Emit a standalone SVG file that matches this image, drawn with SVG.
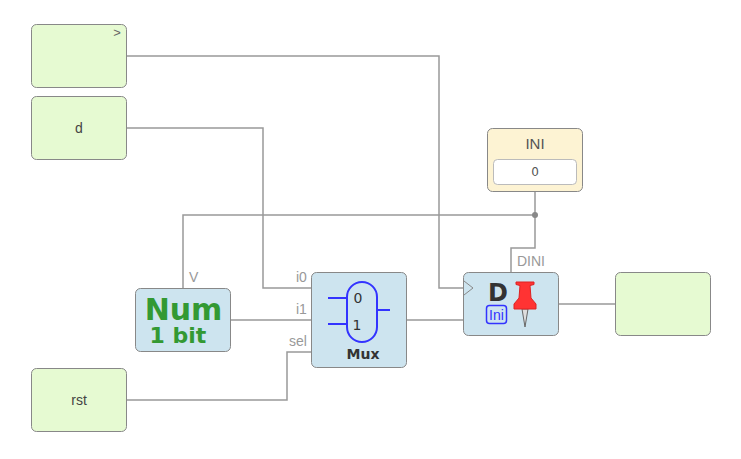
<svg xmlns="http://www.w3.org/2000/svg" width="741" height="459" viewBox="0 0 741 459">
<style>
.box{stroke:#888;stroke-width:1}
.in{fill:#e6fad2}
.blue{fill:#cde4ef}
text{font-family:"DejaVu Sans",sans-serif}
.t{font-family:"Liberation Sans",sans-serif;font-size:14px;fill:#444;text-anchor:middle}
.lab{font-family:"Liberation Sans",sans-serif;font-size:14px;fill:#999}
.w{fill:none;stroke:#999;stroke-width:1.5}
.sym{fill:none;stroke:#3333ff;stroke-width:2}
</style>
<rect width="741" height="459" fill="#fff"/>
<g id="connectors">
<path class="w" d="M127 56H439V288H464"/>
<path class="w" d="M127 128H263V288H312"/>
<path class="w" d="M231 320H312"/>
<path class="w" d="M127 400H287V352H312"/>
<path class="w" d="M407 320H464"/>
<path class="w" d="M559 304H616"/>
<path class="w" d="M183 289V215H535"/>
<path class="w" d="M535 192V248H511V273"/>
<circle cx="535" cy="215" r="3" fill="#888"/>
</g>
<g id="n-clk"><rect class="box in" x="31.500" y="24.500" width="95" height="63" rx="5"/><text x="117" y="37" font-size="13" fill="#666" text-anchor="middle" style="font-family:'Liberation Sans',sans-serif">&gt;</text></g>
<g id="n-d"><rect class="box in" x="31.500" y="96.500" width="95" height="63" rx="5"/><text class="t" x="79" y="133">d</text></g>
<g id="n-rst"><rect class="box in" x="31.500" y="368.500" width="95" height="63" rx="5"/><text class="t" x="79" y="405">rst</text></g>
<g id="n-out"><rect class="box in" x="615.500" y="272.500" width="95" height="63" rx="5"/></g>
<g id="n-ini"><rect class="box" x="487.500" y="128.500" width="95" height="63" rx="5" fill="#fdf3d3"/><text x="535" y="149" text-anchor="middle" font-size="15" fill="#555" style="font-family:'Liberation Sans',sans-serif">INI</text><rect x="493.500" y="159.500" width="83" height="25" rx="4" fill="#fff" stroke="#bbb"/><text x="535" y="176" text-anchor="middle" font-size="12" fill="#555">0</text></g>
<g id="n-num"><rect class="box blue" x="135.500" y="288.500" width="95" height="63" rx="5"/><text x="183.500" y="320" text-anchor="middle" font-size="30" font-weight="bold" fill="#339933">Num</text><text x="178" y="343" text-anchor="middle" font-size="22" font-weight="bold" fill="#339933">1 bit</text></g>
<g id="n-mux"><rect class="box blue" x="311.500" y="272.500" width="95" height="95" rx="5"/>
<rect class="sym" x="347" y="282" width="30" height="60" rx="15"/>
<path class="sym" d="M328 298H347M328 324H347M377 310H390"/>
<text x="358" y="303" text-anchor="middle" font-size="14" fill="#333">0</text><text x="357" y="330" text-anchor="middle" font-size="14" fill="#333">1</text>
<text x="363" y="359" text-anchor="middle" font-size="14" font-weight="bold" fill="#333">Mux</text></g>
<g id="n-dff"><rect class="box blue" x="463.500" y="272.500" width="95" height="63" rx="5"/>
<path d="M464 281L473 288L464 295" fill="none" stroke="#888" stroke-width="1"/>
<text x="498" y="301" text-anchor="middle" font-size="24" font-weight="bold" fill="#333">D</text>
<rect x="486.500" y="305.500" width="20" height="18" rx="3" fill="none" stroke="#3333ff" stroke-width="1.500"/>
<text x="496.500" y="320" text-anchor="middle" font-size="14" fill="#3333ff" style="font-family:'Liberation Sans',sans-serif">Ini</text>
<path d="M522 309L525 327L528 309Z" fill="#ddd" stroke="#666" stroke-width="1"/>
<path d="M516 282H534V284.500L530 285.500L531 298L536 304V309H514V304L519 298L520 285.500L516 284.500Z" fill="#f33" stroke="#d22" stroke-width="1"/></g>
<g id="labels"><text class="lab" x="189" y="282">V</text><text class="lab" x="296" y="282">i0</text><text class="lab" x="296" y="314">i1</text><text class="lab" x="289" y="346">sel</text><text class="lab" x="517" y="266">DINI</text></g>
</svg>
